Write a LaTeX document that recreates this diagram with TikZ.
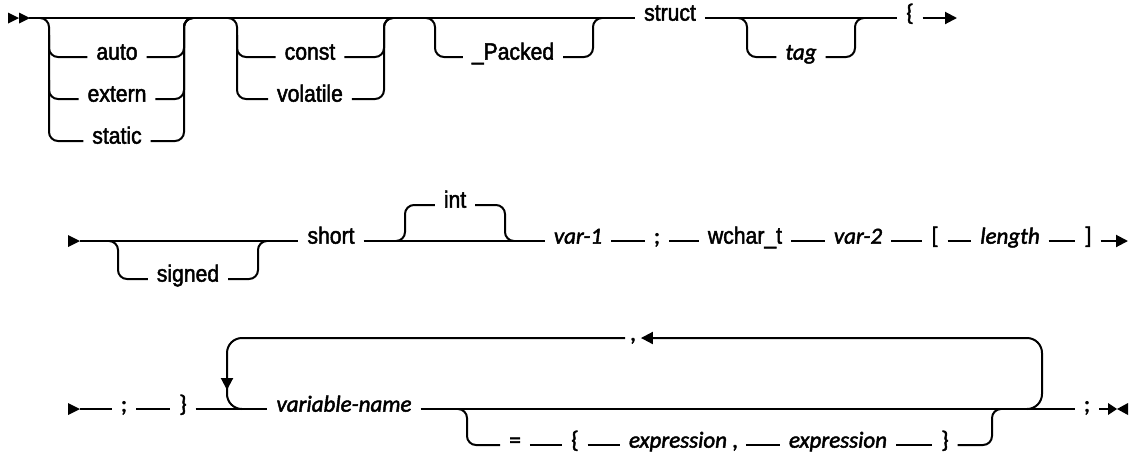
\documentclass[tikz,border=0pt]{standalone}
\usepackage{fontspec}
\setmainfont{Liberation Sans}
\newfontfamily\kwfont{Liberation Sans}[FakeStretch=0.9,FakeBold=2]
\newfontfamily\vfont{Carlito}[FakeBold=2]
\usetikzlibrary{arrows.meta}
\tikzset{
  rail/.style={line width=2pt, rounded corners=9pt},
  loop/.style={line width=2pt, rounded corners=15pt},
  tip/.style={-{Triangle[length=12pt,width=12pt]}},
  kw/.style={anchor=mid, inner xsep=9pt, inner ysep=2pt, outer sep=0pt, font=\kwfont\fontsize{23.5}{26}\selectfont},
  var/.style={anchor=mid, inner xsep=9pt, inner ysep=2pt, outer sep=0pt, font=\vfont\itshape\fontsize{23}{26}\selectfont},
  pun/.style={anchor=mid, inner xsep=9pt, inner ysep=2pt, outer sep=0pt, font=\vfont\fontsize{23.5}{26}\selectfont},
}
\begin{document}
\begin{tikzpicture}[x=1pt,y=-1pt]
\useasboundingbox (0,0) rectangle (1131,459);
% ---------- row 1 ----------
\fill (8,12.5) -- (19,18) -- (8,23.5) -- cycle;
\fill (19,12.5) -- (30,18) -- (19,23.5) -- cycle;
\coordinate (s1) at (29,18);
\node[kw] (auto) at (117,57) {auto};
\node[kw] (extern) at (117,99) {extern};
\node[kw] (static) at (117,141) {static};
\node[kw] (const) at (310,57) {const};
\node[kw] (volatile) at (310,99) {volatile};
\node[kw] (packed) at (513,57) {\_Packed};
\node[kw] (struct) at (670,18) {struct};
\node[var] (tag) at (801,57) {tag};
\node[pun] (lb1) at (910,18) {\{};
\coordinate (e1) at (957,18);
\draw[rail] (s1) -- (struct.mid west);
\draw[rail] (struct.mid east) -- (lb1.mid west);
\draw[line width=2pt,tip] (lb1.mid east) -- (e1);
% branch 1
\draw[rail] (40,18) -- (49,18) -- (49,141) -- (static.mid west);
\draw[rail] (49,35) -- (49,57) -- (auto.mid west);
\draw[rail] (49,80) -- (49,99) -- (extern.mid west);
\draw[rail] (auto.mid east) -- (184,57) -- (184,18) -- (193,18);
\draw[rail] (extern.mid east) -- (184,99) -- (184,18) -- (193,18);
\draw[rail] (static.mid east) -- (184,141) -- (184,18) -- (193,18);
% branch 2
\draw[rail] (228,18) -- (237,18) -- (237,99) -- (volatile.mid west);
\draw[rail] (237,35) -- (237,57) -- (const.mid west);
\draw[rail] (const.mid east) -- (384,57) -- (384,18) -- (393,18);
\draw[rail] (volatile.mid east) -- (384,99) -- (384,18) -- (393,18);
% branch 3
\draw[rail] (426,18) -- (435,18) -- (435,57) -- (packed.mid west);
\draw[rail] (packed.mid east) -- (593,57) -- (593,18) -- (602,18);
% tag
\draw[rail] (738,18) -- (747,18) -- (747,57) -- (tag.mid west);
\draw[rail] (tag.mid east) -- (855,57) -- (855,18) -- (864,18);
% ---------- row 2 ----------
\fill (68,235) -- (80,241) -- (68,247) -- cycle;
\coordinate (s2) at (80,241);
\node[kw] (signed) at (188,279) {signed};
\node[kw] (short) at (331,241) {short};
\node[kw] (int) at (455,205) {int};
\node[var] (var1) at (578,241) {var-1};
\node[pun] (semi2) at (657,241) {;};
\node[kw] (wchar) at (745,241) {wchar\_t};
\node[var] (var2) at (858,241) {var-2};
\node[pun] (lbrack) at (935,241) {[};
\node[var] (length) at (1010,241) {length};
\node[pun] (rbrack) at (1088,241) {]};
\coordinate (e2) at (1128,241);
\draw[rail] (s2) -- (short.mid west);
\draw[rail] (short.mid east) -- (var1.mid west);
\draw[rail] (var1.mid east) -- (semi2.mid west);
\draw[rail] (semi2.mid east) -- (wchar.mid west);
\draw[rail] (wchar.mid east) -- (var2.mid west);
\draw[rail] (var2.mid east) -- (lbrack.mid west);
\draw[rail] (lbrack.mid east) -- (length.mid west);
\draw[rail] (length.mid east) -- (rbrack.mid west);
\draw[line width=2pt,tip] (rbrack.mid east) -- (e2);
\draw[rail] (109,241) -- (118,241) -- (118,279) -- (signed.mid west);
\draw[rail] (signed.mid east) -- (258,279) -- (258,241) -- (267,241);
\draw[rail] (396,241) -- (405,241) -- (405,205) -- (int.mid west);
\draw[rail] (int.mid east) -- (505,205) -- (505,241) -- (514,241);
% ---------- row 3 ----------
\fill (68,403) -- (80,409) -- (68,415) -- cycle;
\coordinate (s3) at (80,409);
\node[pun] (semi3) at (124,409) {;};
\node[pun] (rb3) at (183,409) {\}};
\node[var] (varname) at (344,409) {variable-name};
\node[pun, inner xsep=5pt] (comma1) at (633,338) {,};
\node[pun] (eq) at (515,445) {=};
\node[pun] (lb4) at (575,445) {\{};
\node[var] (expr1) at (678,445) {expression};
\node[pun, inner xsep=8pt] (comma2) at (735,445) {,};
\node[var] (expr2) at (838,445) {expression};
\node[pun] (rb4) at (945,445) {\}};
\node[pun] (semi4) at (1087,409) {;};
\coordinate (e3) at (1108,409);
\draw[rail] (s3) -- (semi3.mid west);
\draw[rail] (semi3.mid east) -- (rb3.mid west);
\draw[rail] (rb3.mid east) -- (varname.mid west);
\draw[rail] (varname.mid east) -- (semi4.mid west);
\draw[rail] (semi4.mid east) -- (e3);
\fill (1108,403) -- (1117,409) -- (1108,415) -- cycle;
\fill (1128,403) -- (1117,409) -- (1128,415) -- cycle;
% optional initializer
\draw[rail] (458,409) -- (467,409) -- (467,445) -- (eq.mid west);
\draw[rail] (eq.mid east) -- (lb4.mid west);
\draw[rail] (lb4.mid east) -- (expr1.mid west);
\draw[rail] (comma2.mid east) -- (expr2.mid west);
\draw[rail] (expr2.mid east) -- (rb4.mid west);
\draw[rail] (rb4.mid east) -- (992,445) -- (992,409) -- (1001,409);
% repeat loop
\draw[loop,tip] (1027,409) -- (1042,409) -- (1042,338) -- (comma1.mid east);
\draw[loop,tip] (comma1.mid west) -- (227,338) -- (227,390);
\draw[loop] (227,380) -- (227,409) -- (242,409);
\end{tikzpicture}
\end{document}
